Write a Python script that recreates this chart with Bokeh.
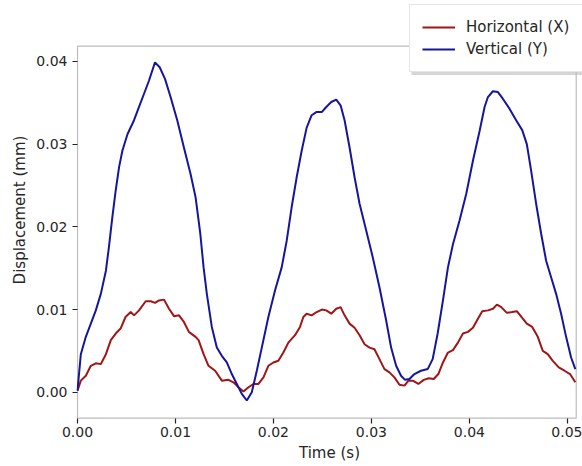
from bokeh.plotting import figure
from bokeh.models import Range1d, Legend, LegendItem, SingleIntervalTicker, NumeralTickFormatter, BoxAnnotation
from bokeh.embed import file_html
from bokeh.resources import INLINE

# Horizontal (X) displacement
t_x = [0.0, 0.00034, 0.00085, 0.00136, 0.00187, 0.00238, 0.0029, 0.0034, 0.0039, 0.0044,
       0.0049, 0.00543, 0.00577, 0.00628, 0.00696, 0.00747, 0.00791, 0.00832, 0.00883, 0.00934,
       0.00985, 0.01036, 0.01086, 0.01137, 0.01205, 0.01236, 0.01287, 0.01337, 0.01405, 0.01473,
       0.01541, 0.01592, 0.01643, 0.01694, 0.01745, 0.01796, 0.01847, 0.01898, 0.01948, 0.01999,
       0.0205, 0.02101, 0.02152, 0.0222, 0.02271, 0.02305, 0.02339, 0.0239, 0.02441, 0.02495,
       0.02539, 0.0259, 0.02641, 0.02685, 0.02726, 0.02777, 0.02828, 0.02879, 0.0293, 0.02981,
       0.03031, 0.03082, 0.03133, 0.03184, 0.03235, 0.03286, 0.03337, 0.03378, 0.03422, 0.03479,
       0.03534, 0.03585, 0.03636, 0.03683, 0.0373, 0.03781, 0.03832, 0.03883, 0.03934, 0.03985,
       0.04036, 0.04087, 0.04131, 0.04189, 0.0424, 0.04281, 0.04325, 0.04382, 0.04436, 0.04484,
       0.04539, 0.04586, 0.04641, 0.04698, 0.04749, 0.048, 0.04851, 0.04912, 0.0497, 0.05027,
       0.05081]
v_x = [0.0002, 0.0014, 0.0020, 0.0032, 0.0035, 0.0034, 0.0046, 0.0063, 0.0071, 0.0077,
       0.0091, 0.0097, 0.0093, 0.0099, 0.0110, 0.0110, 0.0108, 0.0111, 0.0112, 0.0101,
       0.0092, 0.0093, 0.0085, 0.0073, 0.0067, 0.0063, 0.0046, 0.0032, 0.0026, 0.0014,
       0.0015, 0.0012, 0.0006, 0.0001, 0.0006, 0.0010, 0.0010, 0.0018, 0.0032, 0.0036,
       0.0038, 0.0048, 0.0060, 0.0069, 0.0079, 0.0091, 0.0095, 0.0093, 0.0097, 0.0100,
       0.0099, 0.0095, 0.0101, 0.0103, 0.0093, 0.0083, 0.0078, 0.0069, 0.0058, 0.0054,
       0.0052, 0.0040, 0.0028, 0.0024, 0.0018, 0.0009, 0.0008, 0.0014, 0.0014, 0.0010,
       0.0015, 0.0017, 0.0016, 0.0022, 0.0036, 0.0048, 0.0051, 0.0060, 0.0071, 0.0073,
       0.0078, 0.0089, 0.0098, 0.0099, 0.0101, 0.0106, 0.0103, 0.0096, 0.0097, 0.0098,
       0.0090, 0.0083, 0.0079, 0.0067, 0.0050, 0.0046, 0.0038, 0.0030, 0.0026, 0.0022,
       0.0012]

# Vertical (Y) displacement
t_y = [0.0, 0.00034, 0.00085, 0.00136, 0.00187, 0.00238, 0.0029, 0.0032, 0.00356, 0.0039,
       0.00424, 0.00458, 0.0051, 0.00577, 0.00628, 0.00679, 0.0073, 0.00791, 0.00839, 0.00893,
       0.0095, 0.01018, 0.01086, 0.01154, 0.01205, 0.01253, 0.01287, 0.0132, 0.01371, 0.01422,
       0.01473, 0.01524, 0.01575, 0.01626, 0.01677, 0.01728, 0.01779, 0.0183, 0.01881, 0.01948,
       0.02016, 0.02084, 0.02135, 0.02186, 0.02237, 0.02288, 0.02339, 0.0239, 0.02441, 0.02495,
       0.02539, 0.0259, 0.02641, 0.02685, 0.02726, 0.02777, 0.02828, 0.02879, 0.02946, 0.03014,
       0.03082, 0.0315, 0.03201, 0.03252, 0.03302, 0.03343, 0.03388, 0.03439, 0.03506, 0.03574,
       0.03625, 0.03676, 0.0373, 0.03781, 0.03832, 0.039, 0.03968, 0.04036, 0.04104, 0.04155,
       0.04189, 0.0424, 0.04291, 0.04341, 0.04409, 0.04477, 0.04539, 0.04586, 0.0463, 0.04681,
       0.04732, 0.04783, 0.04834, 0.04885, 0.04936, 0.04987, 0.05038, 0.05081]
v_y = [0.0002, 0.0046, 0.0067, 0.0083, 0.0099, 0.0119, 0.0147, 0.0175, 0.0212, 0.0244,
       0.0272, 0.0292, 0.0312, 0.0329, 0.0345, 0.0361, 0.0377, 0.0399, 0.0393, 0.0379,
       0.0357, 0.0329, 0.0296, 0.0264, 0.0236, 0.0192, 0.0151, 0.0119, 0.0079, 0.0054,
       0.0044, 0.0036, 0.0022, 0.0010, -0.0002, -0.0010, 0.0000, 0.0026, 0.0054, 0.0091,
       0.0123, 0.0151, 0.0183, 0.0224, 0.0260, 0.0292, 0.0320, 0.0335, 0.0339, 0.0339,
       0.0345, 0.0351, 0.0354, 0.0347, 0.0329, 0.0296, 0.0260, 0.0228, 0.0196, 0.0163,
       0.0127, 0.0087, 0.0054, 0.0032, 0.0020, 0.0015, 0.0016, 0.0022, 0.0026, 0.0028,
       0.0040, 0.0071, 0.0111, 0.0151, 0.0179, 0.0208, 0.0240, 0.0280, 0.0316, 0.0345,
       0.0357, 0.0364, 0.0363, 0.0355, 0.0343, 0.0329, 0.0317, 0.0300, 0.0268, 0.0228,
       0.0192, 0.0159, 0.0139, 0.0119, 0.0095, 0.0067, 0.0042, 0.0028]

labels = ["Horizontal (X)", "Vertical (Y)"]
colors = ["#a01616", "#16169c"]

# visible axes limits
X0, X1 = 0.0, 0.0509
Y0, Y1 = -0.00314, 0.04185

FONT = "DejaVu Sans"
W, H = 582, 466
# visible axes box (px) and the Bokeh frame (px), which extends to the top/right
BOX_L, BOX_T, BOX_R, BOX_B = 77.0, 45.7, 575.7, 417.7
FR_L, FR_T, FR_R, FR_B = 76, 0, W, 419
kx = (X1 - X0) / (BOX_R - BOX_L)
ky = (Y1 - Y0) / (BOX_B - BOX_T)
xr = Range1d(X0 - (BOX_L - FR_L) * kx, X1 + (FR_R - BOX_R) * kx)
yr = Range1d(Y0 - (FR_B - BOX_B) * ky, Y1 + (BOX_T - FR_T) * ky)

p = figure(width=W, height=H, output_backend="svg", toolbar_location=None,
           x_range=xr, y_range=yr,
           min_border_top=FR_T, min_border_bottom=H - FR_B,
           min_border_left=FR_L, min_border_right=W - FR_R)

p.background_fill_color = "white"
p.border_fill_color = "white"
p.outline_line_color = None
p.xgrid.visible = False
p.ygrid.visible = False

# axes box
p.add_layout(BoxAnnotation(left=X0, right=X1, bottom=Y0, top=Y1,
                           fill_alpha=0, line_color="#222222", line_width=1.2,
                           level="underlay"))

r1 = p.line(t_x, v_x, line_color=colors[0], line_width=2)
r2 = p.line(t_y, v_y, line_color=colors[1], line_width=2)

p.xaxis.ticker = SingleIntervalTicker(interval=0.01)
p.yaxis.ticker = SingleIntervalTicker(interval=0.01)
p.xaxis.formatter = NumeralTickFormatter(format="0.00")
p.yaxis.formatter = NumeralTickFormatter(format="0.00")
p.xaxis.minor_tick_line_color = None
p.yaxis.minor_tick_line_color = None
for ax in (p.xaxis, p.yaxis):
    ax.axis_line_color = None
    ax.major_tick_in = 1
    ax.major_tick_out = 4
    ax.major_tick_line_color = "#222222"
    ax.major_tick_line_width = 1.2
    ax.major_label_text_font = FONT
    ax.major_label_text_font_size = "14px"
    ax.major_label_text_color = "#262626"
    ax.axis_label_text_font = FONT
    ax.axis_label_text_font_size = "15px"
    ax.axis_label_text_font_style = "normal"
    ax.axis_label_text_color = "#262626"
p.xaxis.axis_label = "Time (s)"
p.yaxis.axis_label = "Displacement (mm)"
p.xaxis.major_label_standoff = 3
p.xaxis.axis_label_standoff = 4
p.yaxis.major_label_standoff = 5
p.yaxis.axis_label_standoff = 4

# legend (matplotlib-like box with shadow, overlapping the top-right corner)
PAD, ROW, SP = 12, 20, 2
LEG_L, LEG_T = 409, 6
legend_h = 2 * PAD + 2 * ROW + SP
legend_b = LEG_T + legend_h
shadow = BoxAnnotation(left=X0 + (LEG_L + 2 - BOX_L) * kx, right=X1 + (FR_R - BOX_R) * kx,
                       top=Y1 + (BOX_T - LEG_T - 2) * ky, bottom=Y1 + (BOX_T - legend_b - 2.5) * ky,
                       fill_color="#bbbbbb", fill_alpha=0.6, line_color=None)
p.add_layout(shadow)

legend = Legend(items=[LegendItem(label=labels[0], renderers=[r1]),
                       LegendItem(label=labels[1], renderers=[r2])])
legend.label_text_font = FONT
legend.label_text_font_size = "15px"
legend.label_text_color = "#262626"
legend.glyph_width = 33
legend.glyph_height = ROW
legend.label_height = ROW
legend.label_width = 125
legend.label_standoff = 11
legend.spacing = SP
legend.padding = PAD
legend.margin = 0
legend.border_line_color = "#cccccc"
legend.border_line_width = 1
legend.background_fill_color = "white"
legend.background_fill_alpha = 1.0
legend.location = (LEG_L - FR_L, FR_B - legend_b)
p.add_layout(legend, "center")

open("out.html", "w").write(file_html(p, INLINE))
